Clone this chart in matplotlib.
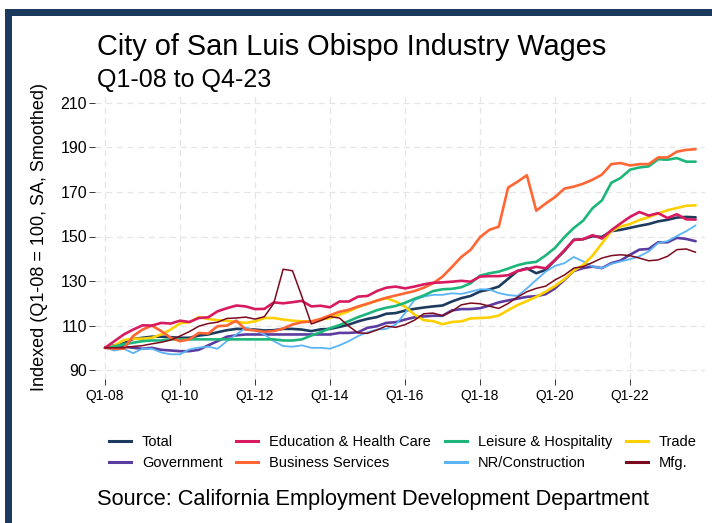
import matplotlib
matplotlib.use("Agg")
import matplotlib.pyplot as plt
from matplotlib.lines import Line2D
from matplotlib.patches import Rectangle

plt.rcParams['font.family'] = ['Liberation Sans', 'DejaVu Sans']

# ---------------- data ----------------
quarters = list(range(64))  # Q1-08 .. Q4-23
tick_pos = [0, 8, 16, 24, 32, 40, 48, 56]
tick_labels = ["Q1-08", "Q1-10", "Q1-12", "Q1-14", "Q1-16", "Q1-18", "Q1-20", "Q1-22"]
y_ticks = [90, 110, 130, 150, 170, 190, 210]

total = [100, 101.1, 102, 104, 104.5, 105, 105, 104.8, 104.5, 104.5, 105.5, 106, 107, 107.9, 108.5, 108.5,
         108.2, 107.8, 107.9, 108.5, 108.5, 108.2, 107.5, 108.3, 108.5, 109.4, 110.4, 111.9, 113, 113.8, 115.3, 115.6,
         116.7, 117.5, 118.1, 118.6, 119, 120.8, 122.3, 123.3, 125.3, 126.2, 127.5, 131, 134.5, 135.7, 133.5, 135,
         139.4, 143.5, 148.5, 148.8, 150.1, 149.8, 152.4, 153, 153.9, 154.8, 155.6, 156.8, 157.5, 158.5, 158.8, 158.6]
education = [100, 103, 106, 108.2, 110.1, 110, 111.2, 110.9, 112.2, 111.6, 113.4, 113.7, 116.4, 117.8, 119, 118.6,
             117.4, 117.5, 120.4, 120, 120.5, 121.1, 118.6, 118.9, 118.2, 120.8, 120.8, 123, 123.3, 125.5, 127, 127.5,
             126.7, 127.5, 128.5, 129.2, 129.4, 129.7, 130.1, 129.7, 132, 132.2, 132.2, 132.6, 134.5, 135.4, 136.4, 135.7,
             139.4, 143.8, 148.4, 148.8, 150.6, 149.1, 152.8, 155.9, 158.8, 161, 159.4, 160.5, 158.3, 160, 157.7, 157.6]
leisure = [100, 100.6, 101.6, 102.3, 103, 103.3, 103.3, 103.8, 103.8, 103.8, 103.8, 103.8, 103.8, 103.8, 103.8, 103.8,
           103.8, 103.8, 103.8, 103.3, 103.3, 103.8, 105.5, 107, 108.8, 110.2, 112, 113.8, 115.3, 116.9, 118, 118.8,
           120.2, 122, 123.5, 125.5, 126.3, 126.5, 127.2, 129, 132.4, 133.5, 134.2, 135.6, 137.1, 138.1, 138.6, 141.5,
           144.9, 149.7, 153.8, 157.1, 162.7, 166.2, 174.1, 176.3, 180, 181, 181.5, 184.7, 184.5, 185.2, 183.6, 183.6]
trade = [100, 101, 103.5, 104.1, 104.1, 104.5, 106, 108.2, 111, 111.5, 113.8, 113, 112.4, 112.2, 111.6, 111.2,
         111.9, 113.4, 113.4, 112.7, 112.2, 111.9, 111.9, 112.7, 113.4, 114.9, 116.4, 118.3, 119.8, 121.2, 122.3, 120.8,
         118.5, 115, 112.4, 112, 110.6, 111.6, 111.9, 113.2, 113.4, 113.6, 114.5, 116.9, 119.2, 121, 122.9, 125.2,
         127.8, 130.8, 134.7, 137.2, 141.4, 146.9, 152.4, 154.5, 155.6, 157.4, 158.7, 160.3, 161.8, 162.8, 163.8, 164]
government = [100, 101, 100.6, 100, 99.6, 100, 99.1, 98.8, 98.5, 98.5, 99.1, 101.1, 103, 105, 105.6, 106,
              106, 106, 106, 106, 106, 106, 106, 106, 106, 106.7, 106.7, 107, 109, 109.7, 111.2, 111.5,
              112.7, 113.7, 114.1, 114.4, 114.4, 116.8, 117.4, 117.4, 117.8, 119, 120.4, 121.3, 122.1, 122.9, 123.2, 124.1,
              126.7, 130.5, 134.5, 135.8, 136.5, 135.8, 138, 139.2, 141.8, 144.1, 144.4, 147.4, 147.4, 149.4, 148.9, 147.9]
business = [100, 99.6, 99.6, 105.3, 108.2, 110, 107.5, 104.5, 103, 103.8, 106.7, 106.4, 109.7, 110, 112.2, 108.2,
            107.8, 107.2, 107.5, 108.7, 110.5, 111.5, 111.8, 113, 114.6, 116.2, 117.1, 118.6, 119.8, 121.2, 122.5, 123.5,
            124.5, 125.5, 127, 129, 132, 136.3, 140.8, 144, 149.7, 153, 154.4, 172, 174.6, 177.5, 161.6, 164.8,
            167.7, 171.5, 172.4, 173.7, 175.5, 177.8, 182.5, 183, 181.9, 182.5, 182.5, 185.5, 185.5, 188.1, 188.9, 189.2]
nr_construction = [100, 98.8, 99.6, 97.6, 99.6, 99.6, 97.9, 97.1, 97.1, 99.3, 100.1, 100.5, 99.6, 103, 106, 109,
                   107.9, 106, 103, 100.8, 100.5, 101.1, 100, 100, 99.6, 101.1, 103, 105.3, 107, 108.2, 108.5, 110.4,
                   115.6, 121.5, 123, 123.8, 123.8, 124.5, 124.2, 125.2, 126.3, 126.2, 124.6, 123.7, 123.3, 126.7, 130.5, 134.2,
                   136.8, 138, 140.8, 138.8, 136.5, 135.8, 137.7, 138.8, 139.8, 141.1, 143.3, 147.1, 147.9, 150.2, 152.4, 155]
mfg = [100, 100, 100, 100.6, 101, 101.8, 102.5, 103.5, 105.3, 107.3, 109.7, 110.9, 111.5, 113.2, 113.4, 113.8,
       112.9, 114, 120, 135.3, 134.6, 123, 110.7, 112.2, 114, 113.4, 109.7, 106.7, 106.5, 108, 109.8, 109.2,
       110.4, 112.4, 115.3, 115.6, 114.4, 116.4, 119.3, 120.1, 119.8, 118.7, 117.7, 119.9, 122.8, 125.2, 126.7, 127.7,
       130.5, 132.7, 135.8, 136.5, 138.3, 140.3, 141.4, 141.8, 141.4, 140.3, 139.1, 139.5, 141.1, 144.1, 144.4, 142.9]

series_names = ["Total", "Education & Health Care", "Leisure & Hospitality", "Trade",
                "Government", "Business Services", "NR/Construction", "Mfg."]
series_values = [total, education, leisure, trade, government, business, nr_construction, mfg]
series_colors = ["#1d3a5f", "#d81b60", "#1db67a", "#ffd000",
                 "#5b3ca0", "#ff6633", "#5ab4f7", "#7b0a1e"]
series_widths = [1.9, 1.9, 1.9, 1.9, 1.9, 1.9, 1.3, 1.1]

# ---------------- figure ----------------
W, H = 712, 523
fig = plt.figure(figsize=(W / 100, H / 100), dpi=100)
fig.patch.set_facecolor("white")

# navy frame (top and left bands)
navy = "#1b3a5e"
fig.patches.append(Rectangle((5 / W, 1 - 16 / H), 1, 7 / H, transform=fig.transFigure,
                             facecolor=navy, edgecolor="none", zorder=0))
fig.patches.append(Rectangle((5 / W, 0), 7 / W, 1 - 9 / H, transform=fig.transFigure,
                             facecolor=navy, edgecolor="none", zorder=0))

ax = fig.add_axes([95 / W, 1 - 379 / H, 610 / W, 285 / H])
ax.set_facecolor("none")

draw_order = [0, 4, 6, 3, 2, 5, 1, 7]
for k in draw_order:
    ax.plot(quarters, series_values[k], color=series_colors[k], lw=series_widths[k],
            solid_joinstyle="round", solid_capstyle="round", zorder=3)

ax.set_xlim(-1.07, 64)
ax.set_ylim(86, 214)
ax.set_xticks(tick_pos)
ax.set_xticklabels(tick_labels)
ax.set_yticks(y_ticks)
ax.set_yticklabels([str(v) for v in y_ticks])

for s in ax.spines.values():
    s.set_visible(False)
ax.grid(True, color="#e6e6e6", lw=0.9, linestyle=(0, (5, 3.5)), zorder=0)
ax.tick_params(axis="both", direction="out", length=4.3, width=0.7, color="#333333")
ax.tick_params(axis="x", labelsize=10, pad=3, labelcolor="black")
ax.tick_params(axis="y", labelsize=11.5, pad=1.5, labelcolor="black")

# texts
fig.text(97 / W, 1 - 55 / H, "City of San Luis Obispo Industry Wages", fontsize=20.8,
         ha="left", va="baseline")
fig.text(97 / W, 1 - 87 / H, "Q1-08 to Q4-23", fontsize=18, ha="left", va="baseline")
fig.text(40 / W, 1 - 237 / H, "Indexed (Q1-08 = 100, SA, Smoothed)", fontsize=13,
         rotation=90, ha="center", va="center")
fig.text(97 / W, 1 - 505 / H, "Source: California Employment Development Department",
         fontsize=15.7, ha="left", va="baseline")

# legend (column-major order)
leg_order = [0, 4, 1, 5, 2, 6, 3, 7]
handles = [Line2D([], [], color=series_colors[k], lw=2.2) for k in leg_order]
labels = [series_names[k] for k in leg_order]
fig.legend(handles, labels, ncol=4, loc="upper left", bbox_to_anchor=(109 / W, 1 - 435 / H),
           frameon=False, fontsize=10.5, handlelength=1.5, handletextpad=0.75,
           columnspacing=0.95, labelspacing=0.5, borderpad=0, borderaxespad=0)

fig.savefig("out.png", dpi=100)
